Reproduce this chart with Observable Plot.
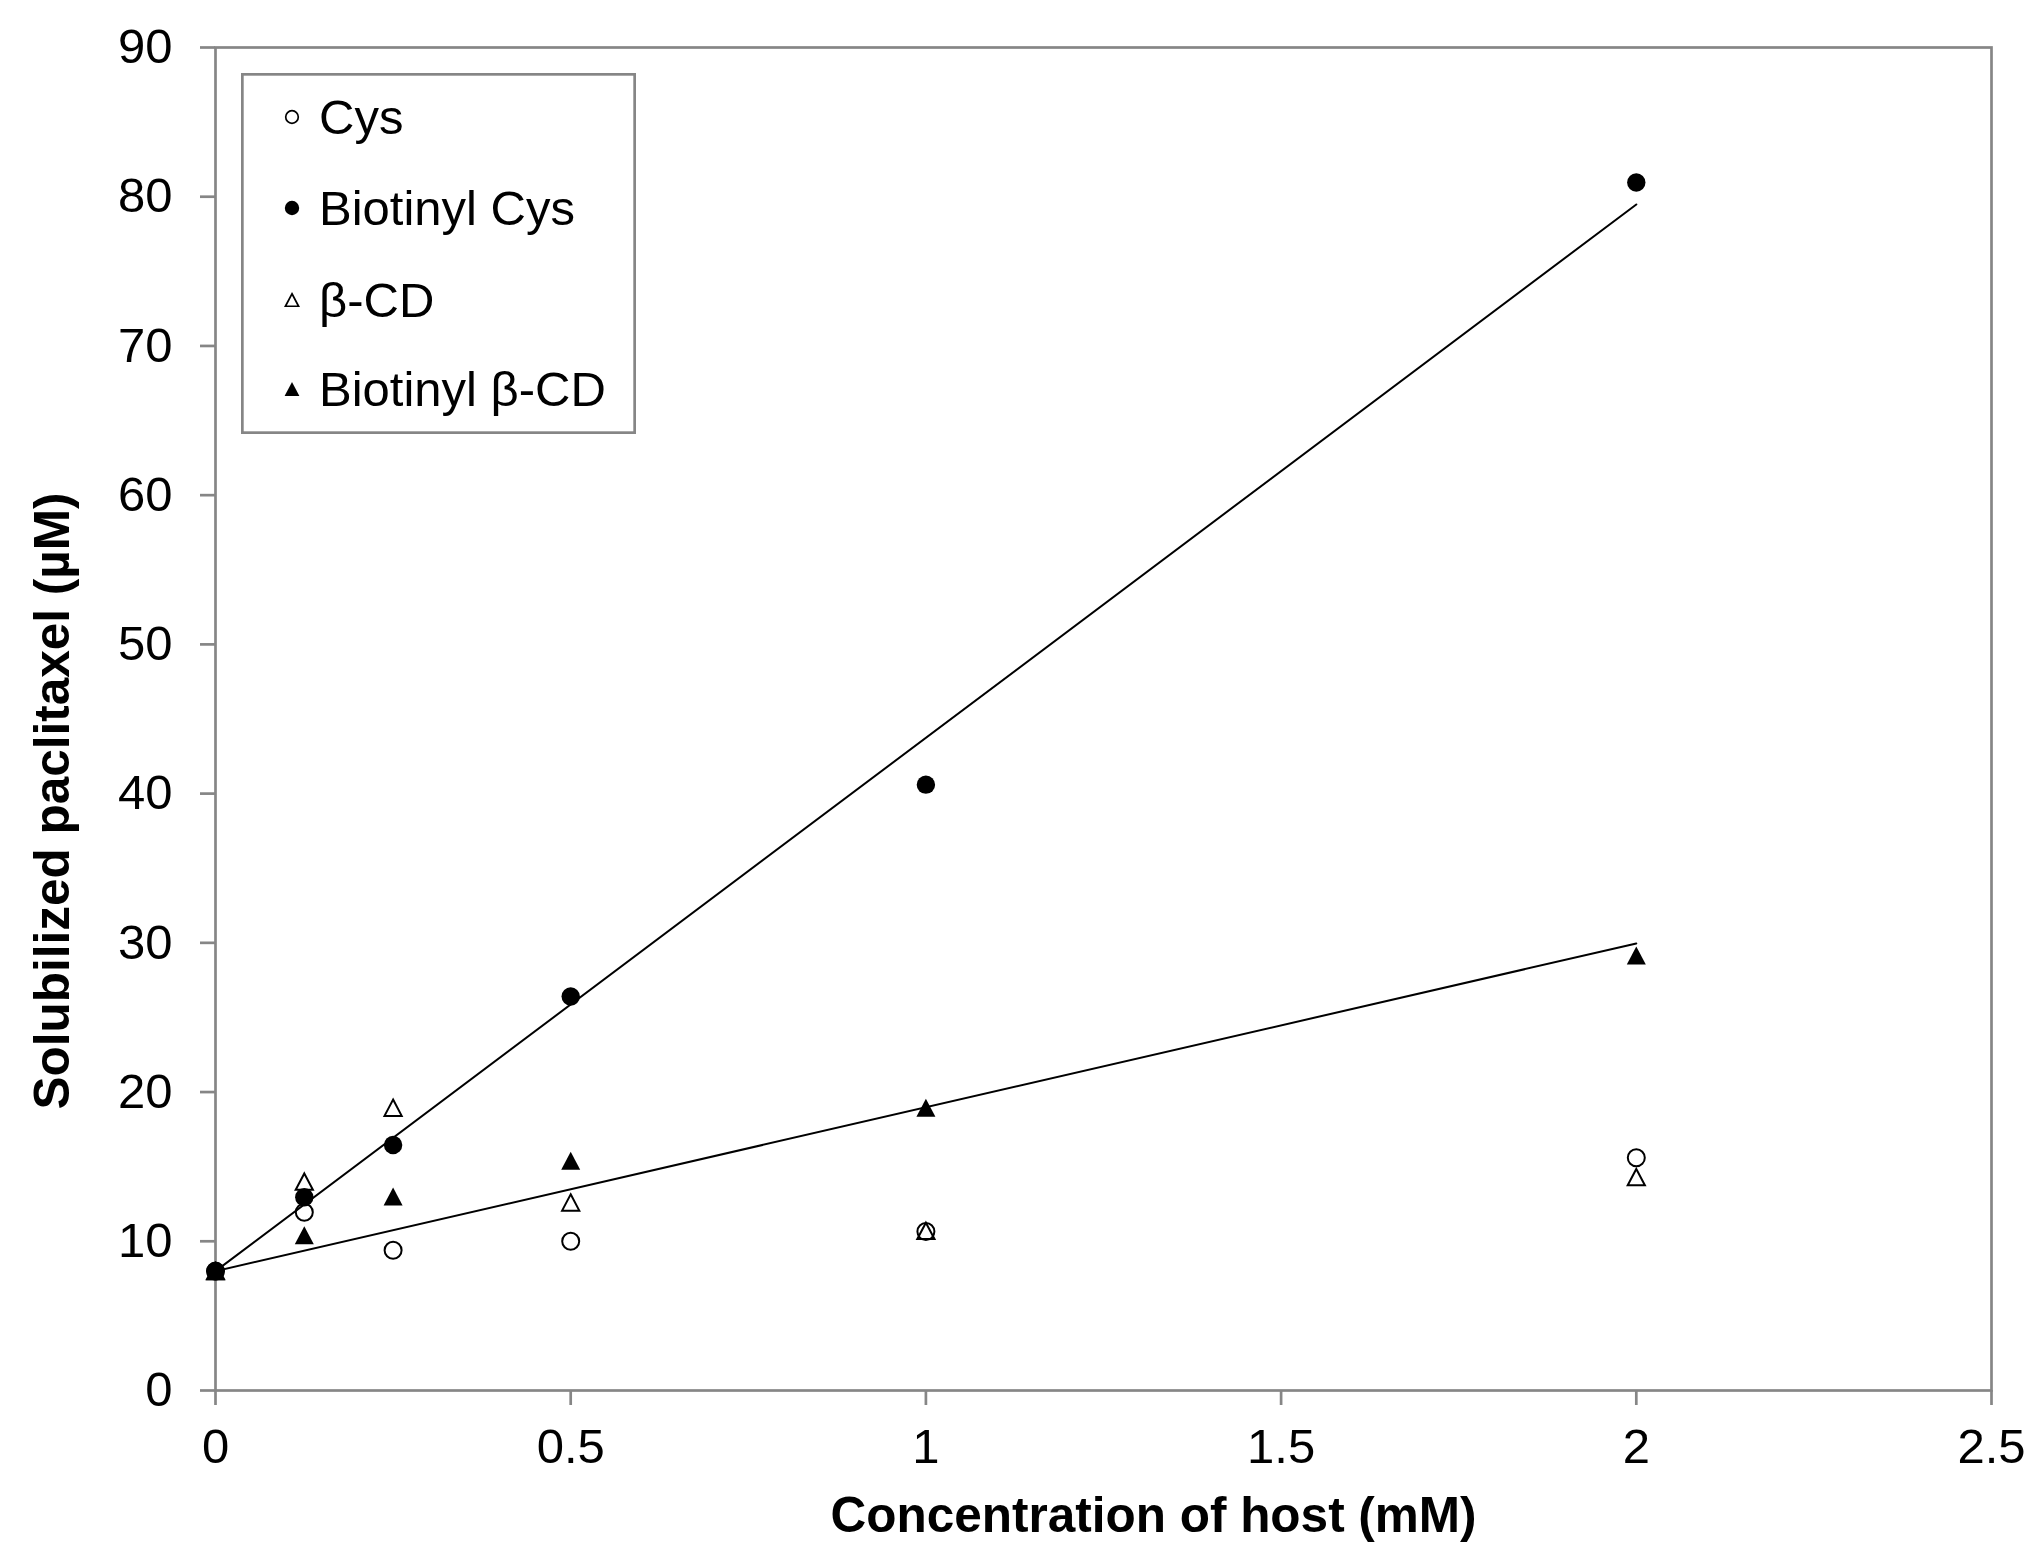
<!DOCTYPE html>
<html>
<head>
<meta charset="utf-8">
<script src="https://cdn.jsdelivr.net/npm/d3@7"></script>
<script src="https://cdn.jsdelivr.net/npm/@observablehq/plot@0.6"></script>
<style>
html, body { margin: 0; padding: 0; background: #fff; }
#wrap { position: relative; width: 2044px; height: 1568px; overflow: hidden; }
#legend { position: absolute; left: 241px; top: 73px; }
</style>
</head>
<body>
<div id="wrap"></div>
<script>
// ---- data ----
const hostConc = [0, 0.125, 0.25, 0.5, 1, 2];            // mM
const cys          = [8, 11.95, 9.4, 10.0, 10.65, 15.6];  // µM
const biotinylCys  = [8, 12.95, 16.45, 26.4, 40.6, 80.95];
const betaCD       = [8, 14.0, 18.95, 12.6, 10.7, 14.3];
const biotinylBCD  = [8, 10.4, 13.0, 15.4, 18.95, 29.15];

const seriesNames = ["Cys", "Biotinyl Cys", "β-CD", "Biotinyl β-CD"];
const xTicks = [0, 0.5, 1, 1.5, 2, 2.5];
const yTicks = [0, 10, 20, 30, 40, 50, 60, 70, 80, 90];
const xTitle = "Concentration of host (mM)";
const yTitle = "Solubilized paclitaxel (µM)";

// ---- helpers ----
const toRows = (ys) => hostConc.map((x, i) => ({x, y: ys[i]}));
// least-squares line constrained through the first (x = 0) point
function fitThroughStart(ys) {
  const y0 = ys[0];
  let sxy = 0, sxx = 0;
  hostConc.forEach((x, i) => { sxy += x * (ys[i] - y0); sxx += x * x; });
  const k = sxy / sxx;
  const xmax = d3.max(hostConc);
  return [{x: 0, y: y0}, {x: xmax, y: y0 + k * xmax}];
}
// triangle symbol (box-centred, like spreadsheet markers)
const tri = {
  draw(ctx, size) {
    const r = Math.sqrt(size / Math.PI);
    const h = r * 0.95;
    ctx.moveTo(0, -h);
    ctx.lineTo(r, h);
    ctx.lineTo(-r, h);
    ctx.closePath();
  }
};

const FONT = "'Liberation Sans', Arial, Helvetica, sans-serif";
const GRAY = "#868686";

const chart = Plot.plot({
  width: 2044,
  height: 1568,
  marginLeft: 215,
  marginRight: 53,
  marginTop: 47,
  marginBottom: 178,
  style: {fontFamily: FONT, fontSize: "49px", background: "#fff", color: "#000"},
  x: {domain: [0, 2.5]},
  y: {domain: [0, 90]},
  marks: [
    Plot.frame({stroke: GRAY, strokeWidth: 2.7}),
    Plot.axisX({ticks: xTicks, tickFormat: d => String(d), tickSize: 15, tickPadding: 23,
      fontSize: 49, stroke: GRAY, strokeWidth: 2.7, fill: "#000", label: null}),
    Plot.axisY({ticks: yTicks, tickFormat: d => String(d), tickSize: 15, tickPadding: 28,
      fontSize: 49, stroke: GRAY, strokeWidth: 2.7, fill: "#000", label: null}),
    Plot.line(fitThroughStart(biotinylCys), {x: "x", y: "y", stroke: "#000", strokeWidth: 2}),
    Plot.line(fitThroughStart(biotinylBCD), {x: "x", y: "y", stroke: "#000", strokeWidth: 2}),
    Plot.dot(toRows(cys), {x: "x", y: "y", r: 8.5, fill: "none", stroke: "#000", strokeWidth: 2}),
    Plot.dot(toRows(betaCD), {x: "x", y: "y", symbol: tri, r: 8.6, fill: "none", stroke: "#000", strokeWidth: 2, strokeLinejoin: "miter"}),
    Plot.dot(toRows(biotinylBCD), {x: "x", y: "y", symbol: tri, r: 9.5, fill: "#000", stroke: "none"}),
    Plot.dot(toRows(biotinylCys), {x: "x", y: "y", r: 9.2, fill: "#000", stroke: "none"}),
    Plot.text([xTitle], {text: d => d, frameAnchor: "bottom", dx: 50, dy: 126, textAnchor: "middle",
      fontSize: 49.5, fontWeight: "bold", lineAnchor: "middle", fill: "#000"}),
    Plot.text([yTitle], {text: d => d, frameAnchor: "left", rotate: -90, dx: -162, dy: 82, textAnchor: "middle",
      fontSize: 49.5, fontWeight: "bold", lineAnchor: "middle", fill: "#000"})
  ]
});

const wrap = document.getElementById("wrap");
wrap.appendChild(chart);

// ---- legend (boxed, top-left inside plot area) ----
const legW = 395, legH = 361;
const rowY = [44, 135, 227, 316];
const legend = d3.select(wrap).append("svg")
  .attr("id", "legend")
  .attr("width", legW).attr("height", legH)
  .style("font-family", FONT);
legend.append("rect")
  .attr("x", 1.35).attr("y", 1.35)
  .attr("width", legW - 2.7).attr("height", legH - 2.7)
  .attr("fill", "#fff").attr("stroke", GRAY).attr("stroke-width", 2.7);

const legendStyles = [
  {sym: d3.symbolCircle, fill: "none", stroke: "#000", r: 6.3},
  {sym: d3.symbolCircle, fill: "#000", stroke: "none", r: 7.2},
  {sym: tri, fill: "none", stroke: "#000", r: 6.6},
  {sym: tri, fill: "#000", stroke: "none", r: 7.4}
];
seriesNames.forEach((name, i) => {
  const s = legendStyles[i];
  const g = legend.append("g").attr("transform", `translate(0,${rowY[i]})`);
  g.append("path")
    .attr("transform", "translate(51,0)")
    .attr("d", d3.symbol(s.sym, Math.PI * s.r * s.r)())
    .attr("fill", s.fill).attr("stroke", s.stroke).attr("stroke-width", 1.7);
  g.append("text")
    .attr("x", 78).attr("y", 0).attr("dy", "0.35em")
    .attr("font-size", 49).attr("fill", "#000")
    .text(name);
});
</script>
</body>
</html>
